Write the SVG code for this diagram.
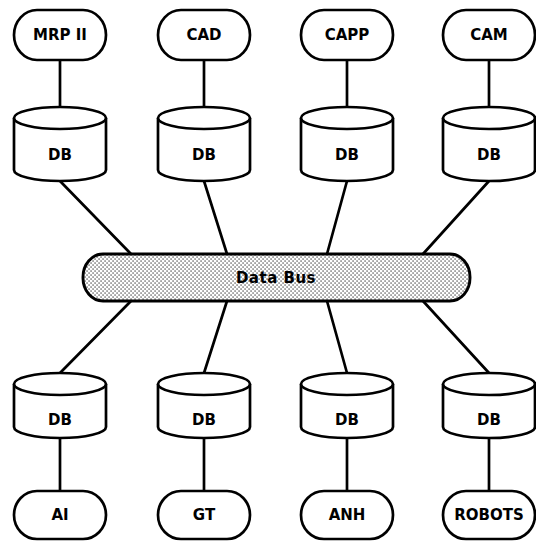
<svg xmlns="http://www.w3.org/2000/svg" width="536" height="543" viewBox="0 0 536 543">
  <defs>
    <!-- stippled fill for the shared bus -->
    <pattern id="stipple" width="4" height="4" patternUnits="userSpaceOnUse">
      <rect width="4" height="4" fill="#fff"/>
      <rect x="0.5" y="0.5" width="1.1" height="1.1" fill="#000"/>
      <rect x="2.5" y="2.5" width="1.1" height="1.1" fill="#000"/>
    </pattern>
  </defs>
  <style>
    .shape { fill: #fff; stroke: #000; stroke-width: 2.7; stroke-linejoin: round; }
    .link { stroke: #000; stroke-width: 2.7; fill: none; stroke-linecap: round; }
    .lbl { font-family: "DejaVu Sans", "Liberation Sans", sans-serif; font-weight: bold; font-size: 15px; text-anchor: middle; dominant-baseline: central; fill: #000; }
  </style>
  <rect width="536" height="543" fill="#fff"/>

  <!-- connectors -->
  <g id="connectors">
    <!-- application to database -->
    <line class="link" x1="60" y1="60" x2="60" y2="107"/>
    <line class="link" x1="204" y1="60" x2="204" y2="107"/>
    <line class="link" x1="347" y1="60" x2="347" y2="107"/>
    <line class="link" x1="489" y1="60" x2="489" y2="107"/>
    <!-- upper databases to bus -->
    <line class="link" x1="60" y1="181" x2="131" y2="254"/>
    <line class="link" x1="204" y1="181" x2="227" y2="254"/>
    <line class="link" x1="347" y1="181" x2="327" y2="254"/>
    <line class="link" x1="489" y1="181" x2="423" y2="254"/>
    <!-- bus to lower databases -->
    <line class="link" x1="131" y1="301" x2="60" y2="373"/>
    <line class="link" x1="227" y1="301" x2="204" y2="373"/>
    <line class="link" x1="327" y1="301" x2="347" y2="373"/>
    <line class="link" x1="423" y1="301" x2="489" y2="373"/>
    <!-- database to application -->
    <line class="link" x1="60" y1="438" x2="60" y2="491"/>
    <line class="link" x1="204" y1="438" x2="204" y2="491"/>
    <line class="link" x1="347" y1="438" x2="347" y2="491"/>
    <line class="link" x1="489" y1="438" x2="489" y2="491"/>
  </g>

  <!-- upper applications -->
  <g id="mrp2"><rect class="shape" x="14" y="10" width="92" height="50" rx="23" ry="25"/><text class="lbl" x="60" y="35">MRP II</text></g>
  <g id="cad"><rect class="shape" x="158" y="10" width="92" height="50" rx="23" ry="25"/><text class="lbl" x="204" y="35">CAD</text></g>
  <g id="capp"><rect class="shape" x="301" y="10" width="92" height="50" rx="23" ry="25"/><text class="lbl" x="347" y="35">CAPP</text></g>
  <g id="cam"><rect class="shape" x="443" y="10" width="92" height="50" rx="23" ry="25"/><text class="lbl" x="489" y="35">CAM</text></g>

  <!-- upper databases -->
  <g id="db-mrp2">
    <path class="shape" d="M14,118 L14,170 A46,11 0 0 0 106,170 L106,118"/>
    <ellipse class="shape" cx="60" cy="118" rx="46" ry="11"/>
    <text class="lbl" x="60" y="155">DB</text>
  </g>
  <g id="db-cad">
    <path class="shape" d="M158,118 L158,170 A46,11 0 0 0 250,170 L250,118"/>
    <ellipse class="shape" cx="204" cy="118" rx="46" ry="11"/>
    <text class="lbl" x="204" y="155">DB</text>
  </g>
  <g id="db-capp">
    <path class="shape" d="M301,118 L301,170 A46,11 0 0 0 393,170 L393,118"/>
    <ellipse class="shape" cx="347" cy="118" rx="46" ry="11"/>
    <text class="lbl" x="347" y="155">DB</text>
  </g>
  <g id="db-cam">
    <path class="shape" d="M443,118 L443,170 A46,11 0 0 0 535,170 L535,118"/>
    <ellipse class="shape" cx="489" cy="118" rx="46" ry="11"/>
    <text class="lbl" x="489" y="155">DB</text>
  </g>

  <!-- shared bus -->
  <g id="data-bus">
    <rect x="83" y="254" width="387" height="47" rx="20" ry="23" fill="url(#stipple)" stroke="#000" stroke-width="2.9"/>
    <text class="lbl" x="276" y="278" letter-spacing="0.5">Data Bus</text>
  </g>

  <!-- lower databases -->
  <g id="db-ai">
    <path class="shape" d="M14,384 L14,427 A46,11 0 0 0 106,427 L106,384"/>
    <ellipse class="shape" cx="60" cy="384" rx="46" ry="11"/>
    <text class="lbl" x="60" y="420">DB</text>
  </g>
  <g id="db-gt">
    <path class="shape" d="M158,384 L158,427 A46,11 0 0 0 250,427 L250,384"/>
    <ellipse class="shape" cx="204" cy="384" rx="46" ry="11"/>
    <text class="lbl" x="204" y="420">DB</text>
  </g>
  <g id="db-anh">
    <path class="shape" d="M301,384 L301,427 A46,11 0 0 0 393,427 L393,384"/>
    <ellipse class="shape" cx="347" cy="384" rx="46" ry="11"/>
    <text class="lbl" x="347" y="420">DB</text>
  </g>
  <g id="db-robots">
    <path class="shape" d="M443,384 L443,427 A46,11 0 0 0 535,427 L535,384"/>
    <ellipse class="shape" cx="489" cy="384" rx="46" ry="11"/>
    <text class="lbl" x="489" y="420">DB</text>
  </g>

  <!-- lower applications -->
  <g id="ai"><rect class="shape" x="14" y="491" width="92" height="48" rx="23" ry="24"/><text class="lbl" x="60" y="515">AI</text></g>
  <g id="gt"><rect class="shape" x="158" y="491" width="92" height="48" rx="23" ry="24"/><text class="lbl" x="204" y="515">GT</text></g>
  <g id="anh"><rect class="shape" x="301" y="491" width="92" height="48" rx="23" ry="24"/><text class="lbl" x="347" y="515">ANH</text></g>
  <g id="robots"><rect class="shape" x="443" y="491" width="92" height="48" rx="23" ry="24"/><text class="lbl" x="489" y="515">ROBOTS</text></g>
</svg>
